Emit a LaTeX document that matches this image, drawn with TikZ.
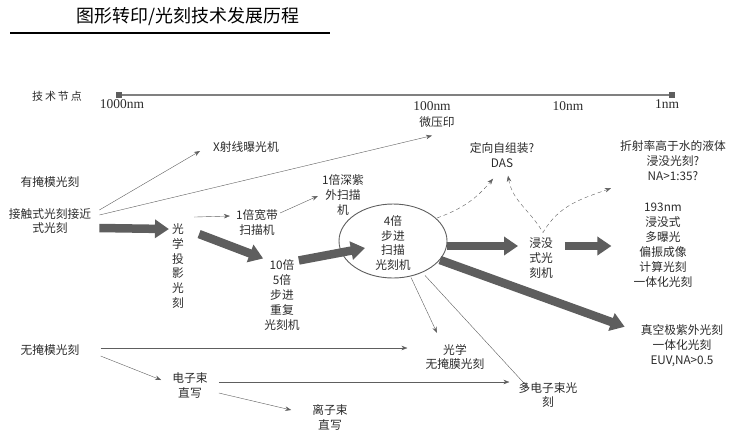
\documentclass[tikz,border=0pt]{standalone}
\usepackage{fontspec}
\setmainfont{Liberation Serif}
\newfontfamily\cjk{Noto Sans CJK SC}
\usepackage{tikz}
\usetikzlibrary{arrows.meta, positioning, calc, shapes.geometric}
\definecolor{arrowgray}{HTML}{5E5E5E}
\definecolor{textgray}{HTML}{2B2B2B}
\tikzstyle{arrow} = [thin, arrowgray, -{Stealth[length=6bp,width=4.5bp]}]
\tikzstyle{bigarrow} = [line width=8.5bp, arrowgray, -{Triangle[length=14bp,width=18bp]}]
\tikzstyle{dasharrow} = [thin, arrowgray, dash pattern=on 4bp off 3bp]
\tikzstyle{lbl} = [font=\cjk\fontsize{11.8}{15}\selectfont, text=textgray, align=center, inner sep=1bp]
\tikzstyle{nmlbl} = [font=\fontsize{13.5}{14}\selectfont, text=textgray, inner sep=1bp]
\tikzstyle{tick} = [rectangle, fill=arrowgray, minimum size=6bp, inner sep=0pt]

\begin{document}
\begin{tikzpicture}[x=1bp, y=-1bp]
    \useasboundingbox (0,0) rectangle (741,430);

    % Title
    \node[font=\cjk\fontsize{18}{20}\selectfont, text=black] (title) at (188,17) {图形转印/光刻技术发展历程};
    \draw[line width=1.5bp] (10,33) -- (330,33);

    % Technology node scale
    \node[lbl, font=\cjk\fontsize{11}{12}\selectfont] (nodes) at (57,96) {技\hspace{2bp}术\hspace{2bp}节\hspace{2bp}点};
    \node[tick] (n1000) at (119,95) {};
    \node[tick] (n1) at (672,95) {};
    \draw[gray, line width=1.2bp] (n1000) -- (n1);
    \node[nmlbl, below=0bp of n1000, xshift=3bp] {1000nm};
    \node[nmlbl] at (432,106) {100nm};
    \node[nmlbl] at (568,106) {10nm};
    \node[nmlbl, below=0bp of n1, xshift=-5bp] {1nm};

    % Mask lithography
    \node[lbl] (mask) at (50,182) {有掩模光刻};
    \node[lbl] (contact) at (50,221) {接触式光刻接近\\式光刻};
    \node[lbl] (xray) at (246,147) {X射线曝光机};
    \node[lbl] (micro) at (437,122) {微压印};
    \node[lbl] (proj) at (178,266) {光\\学\\投\\影\\光\\刻};
    \node[lbl] (broad) at (257,222) {1倍宽带\\扫描机};
    \node[lbl] (duv) at (343,195) {1倍深紫\\外扫描\\机};
    \node[lbl] (step) at (282,295) {10倍\\5倍\\步进\\重复\\光刻机};
    \node[ellipse, draw=arrowgray, line width=0.9bp, minimum width=108bp, minimum height=74bp] (scan) at (393,241) {};
    \node[lbl] (scantext) at ($(scan.center)+(0,2)$) {4倍\\步进\\扫描\\光刻机};
    \node[lbl] (immer) at (541,258) {浸没\\式光\\刻机};
    \node[lbl] (arf) at (663,245) {193nm\\浸没式\\多曝光\\偏振成像\\计算光刻\\一体化光刻};
    \node[lbl] (euv) at (682,346) {真空极紫外光刻\\一体化光刻\\EUV,NA>0.5};
    \node[lbl] (das) at (502,155) {定向自组装?\\DAS};
    \node[lbl] (fluid) at (673,161) {折射率高于水的液体\\浸没光刻?\\NA>1:35?};

    % Maskless lithography
    \node[lbl] (maskless) at (50,350) {无掩模光刻};
    \node[lbl] (optml) at (455,357) {光学\\无掩膜光刻};
    \node[lbl] (ebeam) at (190,385) {电子束\\直写};
    \node[lbl] (multieb) at (548,395) {多电子束光\\刻};
    \node[lbl] (ion) at (330,417) {离子束\\直写};

    % Arrows
    \draw[arrow] ($(contact.east)+(7,-11)$) -- ($(xray.west)+(-12,4)$);
    \draw[arrow] ($(contact.east)+(7,-6)$) -- ($(micro.south)+(-5,7)$);
    \draw[bigarrow] ($(contact.east)+(7,7)$) -- ($(proj.north west)+(-2,7)$);
    \draw[arrow] ($(proj.north east)+(9,-5)$) -- ($(broad.west)+(-5,-6)$);
    \draw[arrow] ($(broad.east)+(1,-9)$) -- ($(duv.west)+(-3,1)$);
    \draw[bigarrow] ($(proj.north east)+(14,12)$) -- (step.north west);
    \draw[bigarrow] ($(step.north east)+(-2,2)$) -- ($(scan.center)+(-28,7)$);
    \draw[bigarrow] ($(scan.east)+(0,5)$) -- ($(immer.west)+(-10,-12)$);
    \draw[bigarrow] ($(immer.east)+(11,-12)$) -- ($(arf.west)+(-21,1)$);
    \draw[bigarrow] ($(scan.center)+(47,19)$) -- ($(euv.north west)+(-15,3)$);
    \draw[arrow] ($(scan.south)+(18,-1)$) -- ($(optml.north)+(-18,-10)$);
    \draw[arrow] ($(scan.south)+(32,-3)$) -- ($(multieb.north west)+(11,7)$);
    \draw[dasharrow, -{Stealth[length=6bp,width=4.5bp]}] ($(scan.center)+(44,-23)$) to[bend right=15] ($(das.south)+(-9,10)$);
    \draw[dasharrow, {Stealth[length=6bp,width=4.5bp]}-{Stealth[length=6bp,width=4.5bp]}] ($(das.south)+(6,7)$) to[out=-80,in=120] ($(immer.north)+(2,-4)$) to[out=60,in=200] ($(fluid.south west)+(-8,6)$);
    \draw[arrow] ($(maskless.east)+(20,-2)$) -- ($(optml.west)+(-17,-9)$);
    \draw[arrow] ($(maskless.east)+(20,6)$) -- ($(ebeam.west)+(-10,-5)$);
    \draw[arrow] ($(ebeam.east)+(10,-3)$) -- ($(multieb.west)+(-8,-13)$);
    \draw[arrow] ($(ebeam.east)+(10,8)$) -- ($(ion.west)+(-20,-7)$);
\end{tikzpicture}
\end{document}
